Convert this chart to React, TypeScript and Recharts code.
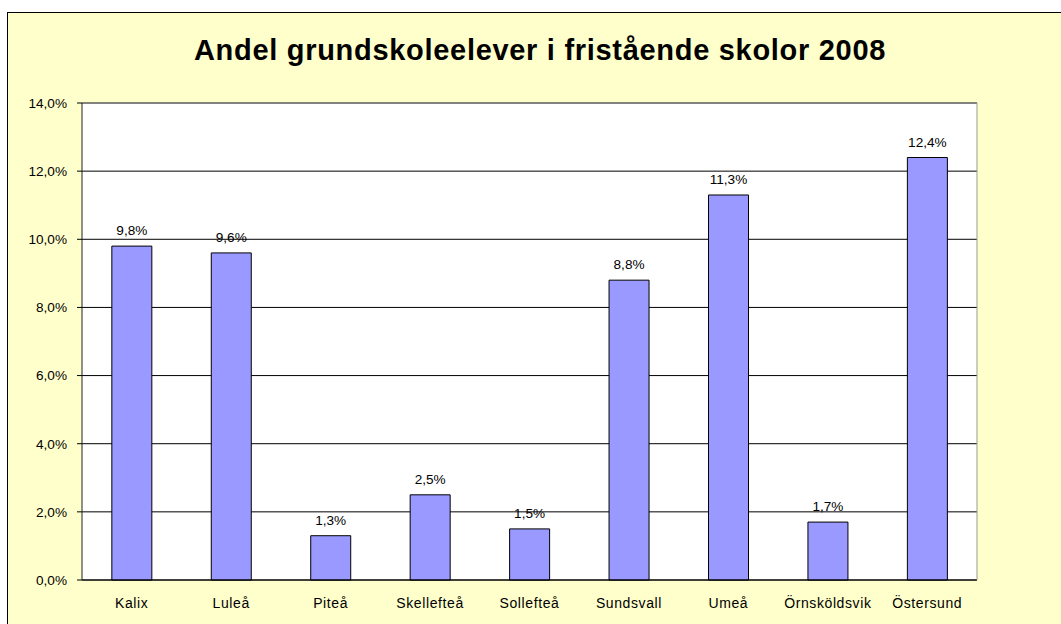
import React from "react";
import {
  BarChart,
  Bar,
  XAxis,
  YAxis,
  CartesianGrid,
  LabelList,
  ReferenceLine,
} from "recharts";

const categories = [
  "Kalix",
  "Luleå",
  "Piteå",
  "Skellefteå",
  "Sollefteå",
  "Sundsvall",
  "Umeå",
  "Örnsköldsvik",
  "Östersund",
];
const values = [9.8, 9.6, 1.3, 2.5, 1.5, 8.8, 11.3, 1.7, 12.4];
const yTicks = [0, 2, 4, 6, 8, 10, 12, 14];
const boundaryTicks = [0, 1, 2, 3, 4, 5, 6, 7, 8, 9];
const title = "Andel grundskoleelever i fristående skolor 2008";

const data = categories.map((name, i) => ({ name, value: values[i], pos: i + 0.5 }));

const pct = (v: number) => `${Number(v).toFixed(1).replace(".", ",")}%`;

const FONT = "Arial, 'Liberation Sans', sans-serif";
const numText = { fill: "#000", fontSize: 13.6, fontFamily: FONT };
const catText = { fill: "#000", fontSize: 14, fontFamily: FONT, letterSpacing: 0.6 };

export default function App() {
  return (
    <div
      style={{
        position: "absolute",
        left: 0,
        top: 0,
        width: 1061,
        height: 624,
        overflow: "hidden",
        background: "#ffffff",
        fontFamily: FONT,
      }}
    >
      <div
        style={{
          position: "absolute",
          left: 7,
          top: 12,
          width: 1070,
          height: 630,
          background: "#FFFFCC",
          border: "1px solid #000",
        }}
      />
      <div
        style={{
          position: "absolute",
          left: 0,
          top: 32,
          width: 1080,
          textAlign: "center",
          fontSize: 29,
          letterSpacing: 0.7,
          fontWeight: "bold",
          color: "#000",
          lineHeight: "36px",
        }}
      >
        {title}
      </div>
      <div style={{ position: "absolute", left: 0, top: 0 }}>
        <BarChart
          width={1061}
          height={624}
          data={data}
          margin={{ top: 103, right: 83, bottom: 14, left: 0 }}
          barCategoryGap="30%"
        >
          <CartesianGrid
            vertical={false}
            stroke="#000"
            fill="#ffffff"
            fillOpacity={1}
            yAxisId="left"
          />
          <XAxis
            xAxisId="b"
            type="number"
            dataKey="pos"
            domain={[0, 9]}
            ticks={boundaryTicks}
            tick={false}
            tickSize={5}
            height={0}
            axisLine={false}
            tickLine={{ stroke: "#000" }}
          />
          <XAxis
            dataKey="name"
            interval={0}
            height={30}
            tickLine={false}
            tickSize={6}
            tickMargin={12}
            axisLine={{ stroke: "#000" }}
            tick={catText}
          />
          <YAxis
            yAxisId="left"
            domain={[0, 14]}
            ticks={yTicks}
            width={82}
            tickFormatter={pct}
            tickSize={5}
            tickMargin={10}
            axisLine={{ stroke: "#222" }}
            tickLine={{ stroke: "#000" }}
            tick={numText}
          />
          <YAxis
            yAxisId="right"
            orientation="right"
            domain={[0, 14]}
            width={1}
            tick={false}
            tickLine={false}
            axisLine={{ stroke: "#999" }}
          />
          <ReferenceLine yAxisId="left" y={14} stroke="#888" />
          <Bar
            dataKey="value"
            yAxisId="left"
            fill="#9999FF"
            stroke="#000"
            strokeWidth={1}
            isAnimationActive={false}
          >
            <LabelList
              dataKey="value"
              position="top"
              offset={11}
              formatter={pct}
              style={numText}
            />
          </Bar>
        </BarChart>
      </div>
    </div>
  );
}
